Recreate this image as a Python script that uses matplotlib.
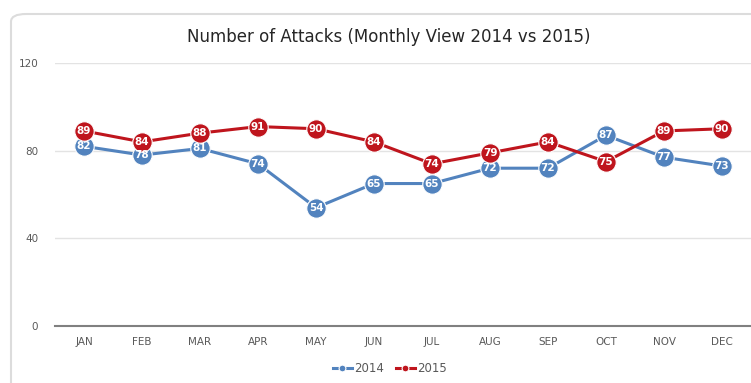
import matplotlib.pyplot as plt
from matplotlib.patches import FancyBboxPatch

months = ["JAN", "FEB", "MAR", "APR", "MAY", "JUN", "JUL", "AUG", "SEP", "OCT", "NOV", "DEC"]
attacks_2014 = [82, 78, 81, 74, 54, 65, 65, 72, 72, 87, 77, 73]
attacks_2015 = [89, 84, 88, 91, 90, 84, 74, 79, 84, 75, 89, 90]

blue = "#5283BE"
red = "#BF151D"

fig = plt.figure(figsize=(7.51, 3.83), dpi=100)

# chart border (runs off the right and bottom edges like the screenshot)
box = FancyBboxPatch((11 / 751, -20 / 383), 780 / 751, 389 / 383,
                     boxstyle="round,pad=0,rounding_size=0.02",
                     transform=fig.transFigure, fill=False,
                     edgecolor="#dcdcdc", linewidth=1.5, clip_on=False)
fig.patches.append(box)

ax = fig.add_axes([55 / 751, 57 / 383, 696 / 751, 263 / 383])
x = list(range(len(months)))

for vals, c, name in [(attacks_2014, blue, "2014"), (attacks_2015, red, "2015")]:
    ax.plot(x, vals, color=c, linewidth=2.2, marker="o", markersize=14,
            markeredgecolor="white", markeredgewidth=0.8, label=name, zorder=3)
    for xi, v in zip(x, vals):
        ax.text(xi, v, str(v), color="white", fontsize=7.5, fontweight="bold",
                ha="center", va="center", zorder=4)

ax.set_xlim(-0.5, 11.5)
ax.set_ylim(0, 120)
ax.set_yticks([0, 40, 80, 120])
ax.set_xticks(x)
ax.set_xticklabels(months)
ax.tick_params(axis="both", length=0, labelsize=7.5, labelcolor="#595959")
ax.tick_params(axis="y", pad=12)
ax.tick_params(axis="x", pad=8)
ax.grid(axis="y", color="#e3e3e3", linewidth=1)
ax.set_axisbelow(True)
for s in ["top", "right", "left"]:
    ax.spines[s].set_visible(False)
ax.spines["bottom"].set_color("#808080")
ax.spines["bottom"].set_linewidth(1.5)

fig.text(389 / 751, 1 - 37 / 383, "Number of Attacks (Monthly View 2014 vs 2015)",
         ha="center", va="center", fontsize=12, color="#262626")

leg = fig.legend(loc="center", bbox_to_anchor=(390 / 751, 1 - 369 / 383), ncol=2,
                 frameon=False, fontsize=8.5, handlelength=1.6, columnspacing=1.0,
                 handletextpad=0.2, markerscale=0.35)
for t in leg.get_texts():
    t.set_color("#595959")

fig.savefig("out.png", dpi=100)
